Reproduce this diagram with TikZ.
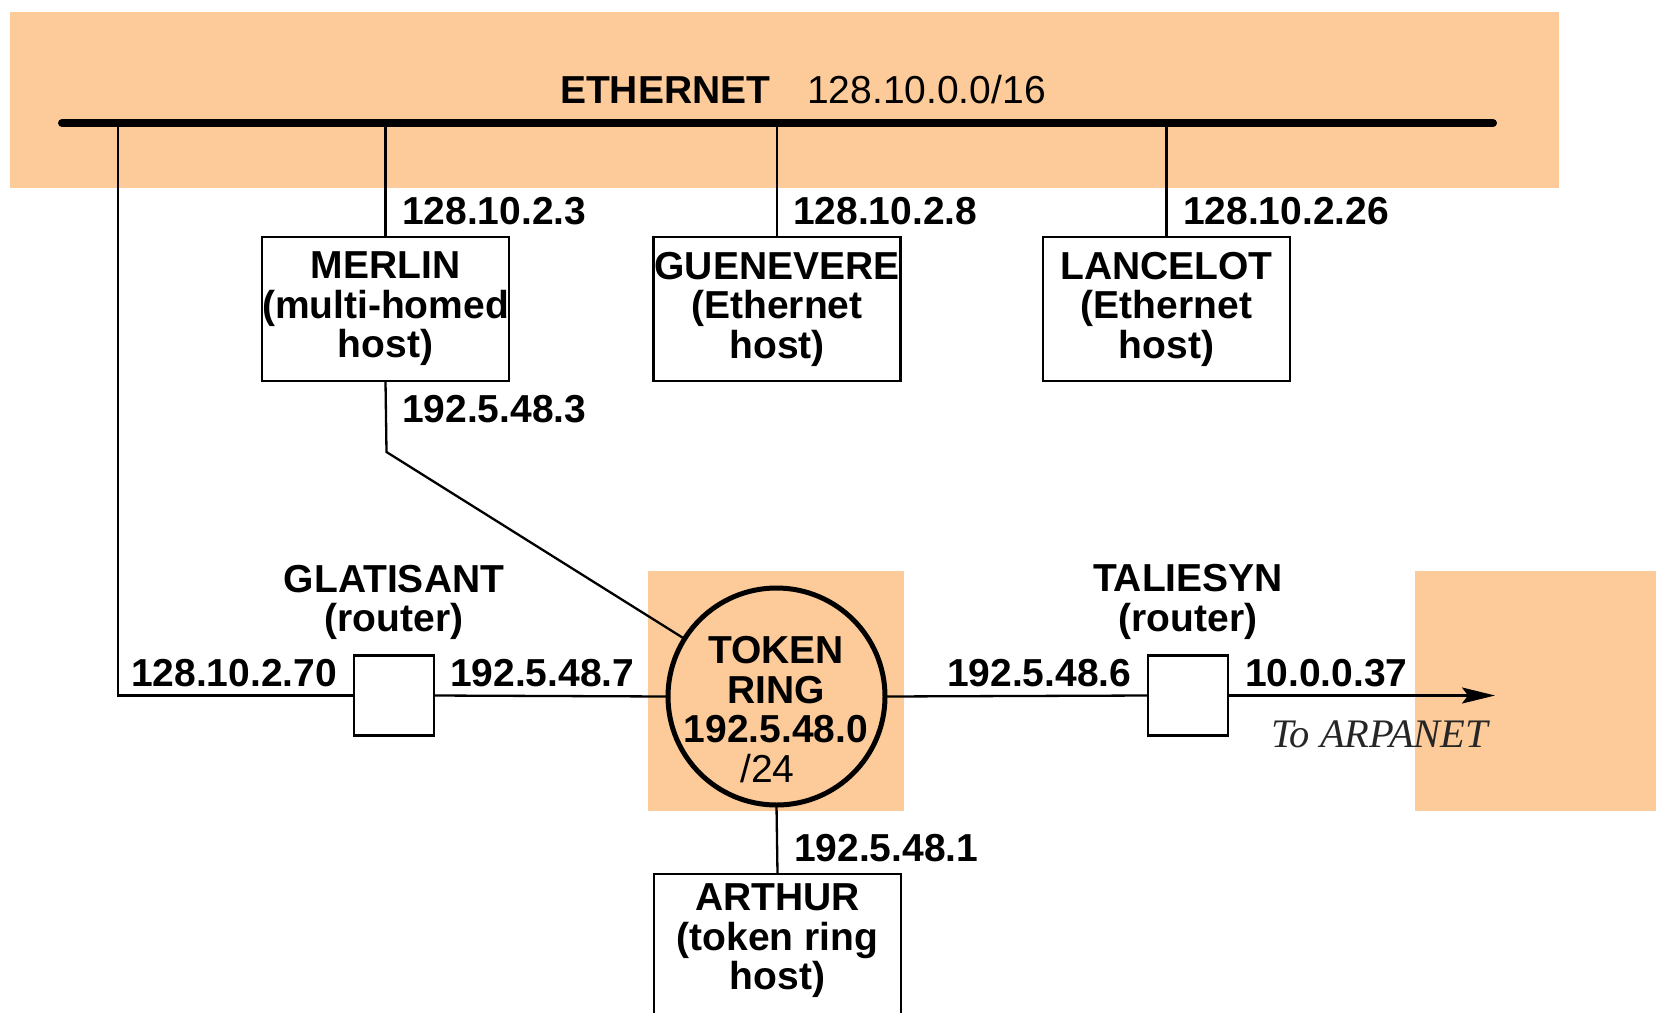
\documentclass[tikz,border=0pt]{standalone}
\usepackage{fontspec}
\setmainfont{Liberation Sans}
\newfontfamily\serifit{Liberation Serif}
\usetikzlibrary{arrows.meta}
\definecolor{peach}{RGB}{253,203,153}
\begin{document}
\begin{tikzpicture}[x=1pt,y=-1pt,
  every node/.style={inner sep=0pt, outer sep=0pt},
  txt/.style={font=\fontsize{39}{39.5}\selectfont\bfseries, align=center},
  lbl/.style={font=\fontsize{39}{39.5}\selectfont\bfseries, anchor=base west},
  hostbox/.style={draw, line width=2.5pt, minimum width=247pt, minimum height=144pt, txt},
  routerbox/.style={draw, line width=2.5pt, minimum width=80pt, minimum height=80pt},
  wire/.style={line width=2.3pt},
  bus/.style={line width=8pt, line cap=round},
  hilite/.style={fill=peach, draw=none}
]
\useasboundingbox (0,0) rectangle (1656,1012);
\clip (0,0) rectangle (1656,1012);
% highlight areas
\fill[peach] (9.5,11.6) rectangle (1559,188);
\fill[peach] (648,571) rectangle (904,811);
\fill[peach] (1415,571) rectangle (1656,811);

% ethernet bus
\coordinate (ethL) at (62,123);
\coordinate (ethR) at (1493,123);
\coordinate (tapA) at (118,123);
\draw[bus] (ethL) -- (ethR);
\node[lbl] (ethlabel) at (560,103.5) {ETHERNET\hspace{37pt}{\mdseries 128.10.0.0/16}};

% hosts
\node[hostbox] (merlin) at (385.5,309) {MERLIN\\(multi-homed\\host)};
\node[hostbox] (guen) at (777,309) {GUENEVERE\\(Ethernet\\host)};
\node[hostbox] (lance) at (1166.5,309) {LANCELOT\\(Ethernet\\host)};

\draw[wire] (merlin.north) -- (merlin.north |- ethL);
\draw[wire] (guen.north) -- (guen.north |- ethL);
\draw[wire] (lance.north) -- (lance.north |- ethL);

\node[lbl] (l1) at (402,224) {128.10.2.3};
\node[lbl] (l2) at (793,224) {128.10.2.8};
\node[lbl] (l3) at (1183,224) {128.10.2.26};
\node[lbl] (l4) at (402,422) {192.5.48.3};

% token ring
\node[circle, draw, line width=5pt, minimum size=217pt] (ring) at (776.5,696.5) {};
\node[txt] (ringtxt) at (776,709.5) {TOKEN\\RING\\192.5.48.0\\{\mdseries/24}\hspace*{17pt}};

% routers
\node[routerbox] (glat) at (394,695.5) {};
\node[routerbox] (tal) at (1188,695.5) {};
\node[txt] (glatlbl) at (394,602.5) {GLATISANT\\(router)};
\node[txt] (tallbl) at (1188,602) {TALIESYN\\(router)};

\draw[wire] (tapA) |- (glat.west);
\draw[wire] (glat.east) -- (ring.west);
\draw[wire] (ring.east) -- (tal.west);
\coordinate (arpend) at (1495,695.5);
\draw[wire, -{Stealth[length=33pt,width=16pt,inset=6pt]}] (tal.east) -- (arpend);

\coordinate (bend) at (386.5,452);
\draw[wire] (merlin.south) -- (bend) -- (ring);

\node[lbl] (l5) at (131,686) {128.10.2.70};
\node[lbl] (l6) at (450,686) {192.5.48.7};
\node[lbl] (l7) at (947,686) {192.5.48.6};
\node[lbl] (l8) at (1245,686) {10.0.0.37};
\node[anchor=base west, font=\fontsize{40.5}{40.5}\selectfont\serifit\itshape, text=black!85] (arpa) at (1271,747) {To ARPANET};

% arthur
\node[draw, line width=2.5pt, minimum width=247pt, minimum height=200pt, anchor=north] (arthur) at (777.5,874) {};
\node[txt] (arthurtxt) at (777.5,941) {ARTHUR\\(token ring\\host)};
\draw[wire] (ring.south) -- (arthur.north);
\node[lbl] (l9) at (794,861) {192.5.48.1};
\end{tikzpicture}
\end{document}
